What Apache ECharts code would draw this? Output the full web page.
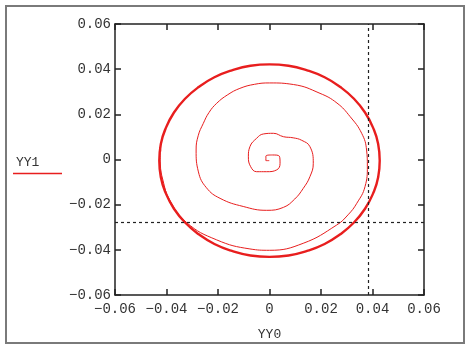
<!DOCTYPE html>
<html>
<head>
<meta charset="utf-8">
<script src="https://cdn.jsdelivr.net/npm/echarts@6/dist/echarts.min.js"></script>
<style>
  html, body { margin: 0; padding: 0; background: #fff; }
  #chart { width: 470px; height: 351px; }
</style>
</head>
<body>
<div id="chart"></div>
<script>
// axis range and ticks
const axisMin = -0.06;
const axisMax = 0.06;
const axisStep = 0.02;

// spiral turns growing out from the centre (YY0, YY1)
const spiral = [
  [-0.0001, -0.0005], [-0.0014, -0.0005], [-0.0014, 0.0015], [0.0012, 0.002],
  [0.0038, 0.0015], [0.0041, -0.0017], [0.0028, -0.0046], [-0.0011, -0.0054],
  [-0.005, -0.0054], [-0.0073, -0.0032], [-0.0082, 0.0012], [-0.0076, 0.0057],
  [-0.005, 0.0094], [-0.0024, 0.0113], [0.0015, 0.0116], [0.0054, 0.0101],
  [0.0092, 0.0096], [0.0125, 0.0085], [0.0157, 0.0057], [0.017, -0.0017],
  [0.0157, -0.0076], [0.0131, -0.0128], [0.0098, -0.0175], [0.0054, -0.0212],
  [-0.0011, -0.0225], [-0.0102, -0.0208], [-0.0192, -0.0172], [-0.0245, -0.0125],
  [-0.0276, -0.0055], [-0.0285, 0.0042], [-0.0277, 0.0105], [-0.0257, 0.016],
  [-0.0235, 0.0208], [-0.0205, 0.0249], [-0.0162, 0.0287], [-0.0115, 0.0315],
  [-0.0058, 0.0333], [0, 0.0339], [0.0093, 0.0332], [0.0196, 0.0293],
  [0.0262, 0.025], [0.0313, 0.019], [0.0358, 0.0116], [0.0377, 0.0042],
  [0.038, -0.003], [0.0371, -0.012], [0.0339, -0.0194], [0.0305, -0.0245],
  [0.0261, -0.029], [0.0131, -0.0371], [0, -0.0402], [-0.0076, -0.0396],
  [-0.0205, -0.0356], [-0.0322, -0.0279], [-0.0388, -0.0178], [-0.0414, -0.0091],
  [-0.0424, -0.002], [-0.0425, 0.0035]
];

// outer limit cycle (drawn heavier, overlaps itself at the start)
const cycle = [
  [-0.0425, 0.0035], [-0.0422, 0.0069], [-0.0402, 0.0141], [-0.0371, 0.0208],
  [-0.0328, 0.0269], [-0.0275, 0.0321], [-0.0214, 0.0364], [-0.0146, 0.0395],
  [-0.0074, 0.0415], [0, 0.0421], [0.0074, 0.0415], [0.0146, 0.0395],
  [0.0214, 0.0364], [0.0275, 0.0321], [0.0328, 0.0269], [0.0371, 0.0208],
  [0.0402, 0.0141], [0.0422, 0.0069], [0.0428, -0.0005], [0.0422, -0.0079],
  [0.0402, -0.0151], [0.0371, -0.0218], [0.0328, -0.0279], [0.0275, -0.0331],
  [0.0214, -0.0374], [0.0146, -0.0405], [0.0074, -0.0425], [0, -0.0431],
  [-0.0074, -0.0425], [-0.0146, -0.0405], [-0.0214, -0.0374], [-0.0275, -0.0331],
  [-0.0328, -0.0279], [-0.0371, -0.0218], [-0.0402, -0.0151], [-0.0422, -0.0079],
  [-0.0428, -0.0005], [-0.0422, 0.0069], [-0.0402, 0.0141], [-0.0371, 0.0208]
];

// crosshair position
const crossX = 0.0385;
const crossY = -0.028;

const FONT = "'Liberation Mono', 'DejaVu Sans Mono', monospace";
const RED = "#e81e1e";

const fmt = (v) => {
  if (Math.abs(v) < 1e-9) return "0";
  return (v < 0 ? "\u2212" : "") + Math.abs(v).toFixed(2);
};

const chart = echarts.init(document.getElementById("chart"));

const baseAxis = {
  type: "value",
  min: axisMin,
  max: axisMax,
  interval: axisStep,
  splitLine: { show: false },
  axisLine: { show: true, onZero: false, lineStyle: { color: "#222", width: 1.5 } },
  axisTick: { show: true, inside: true, length: 6, lineStyle: { color: "#222", width: 1.5 } },
};

const option = {
  animation: false,
  backgroundColor: "#fff",
  grid: { left: 115, right: 46, top: 24, bottom: 56 },
  xAxis: [
    Object.assign({}, baseAxis, {
      position: "bottom",
      name: "YY0",
      nameLocation: "middle",
      nameGap: 33,
      nameTextStyle: { fontFamily: FONT, fontSize: 13, color: "#333" },
      axisLabel: { fontFamily: FONT, fontSize: 14, color: "#333", margin: 7, formatter: fmt },
    }),
    Object.assign({}, baseAxis, { position: "top", axisLabel: { show: false } }),
  ],
  yAxis: [
    Object.assign({}, baseAxis, {
      position: "left",
      axisLabel: { fontFamily: FONT, fontSize: 14, color: "#333", margin: 4, formatter: fmt },
    }),
    Object.assign({}, baseAxis, { position: "right", axisLabel: { show: false } }),
  ],
  graphic: [
    {
      type: "rect",
      shape: { x: 6, y: 6, width: 458, height: 337 },
      style: { fill: "none", stroke: "#7a7a7a", lineWidth: 2 },
      silent: true,
    },
    {
      type: "text",
      left: 16,
      top: 156,
      style: { text: "YY1", font: "13px " + FONT, fill: "#333" },
    },
    {
      type: "line",
      shape: { x1: 13, y1: 173.5, x2: 62, y2: 173.5 },
      style: { stroke: RED, lineWidth: 1.5 },
    },
  ],
  series: [
    {
      name: "YY1",
      type: "line",
      data: spiral,
      showSymbol: false,
      smooth: 0.45,
      lineStyle: { color: RED, width: 1 },
    },
    {
      name: "YY1",
      type: "line",
      data: cycle,
      showSymbol: false,
      smooth: 0.5,
      lineStyle: { color: RED, width: 2.4 },
      markLine: {
        silent: true,
        precision: 4,
        symbol: ["none", "none"],
        label: { show: false },
        lineStyle: { color: "#222", width: 1.2, type: [3, 3] },
        data: [{ xAxis: crossX }, { yAxis: crossY }],
      },
    },
  ],
};

chart.setOption(option);
</script>
</body>
</html>
